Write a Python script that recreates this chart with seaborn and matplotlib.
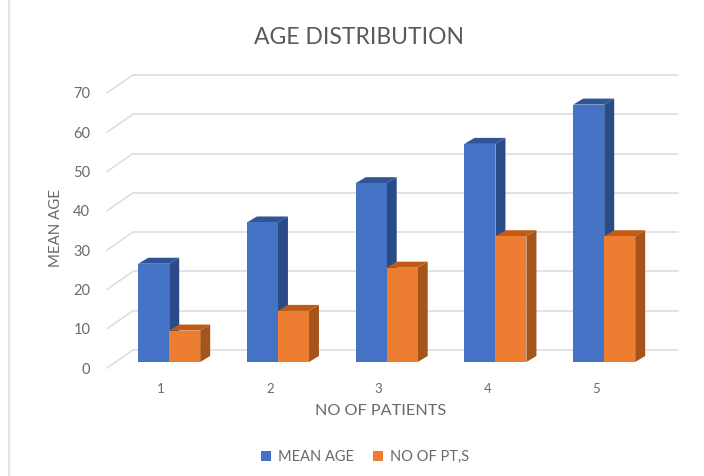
import numpy as np
import pandas as pd
import matplotlib
matplotlib.use('Agg')
import matplotlib.pyplot as plt
from matplotlib.lines import Line2D
from matplotlib.patches import Polygon
import seaborn as sns

groups = ['1', '2', '3', '4', '5']
mean_age = [25, 35.5, 45.5, 55.5, 65.5]
no_of_pts = [8, 13, 24, 32, 32]
y_ticks = [0, 10, 20, 30, 40, 50, 60, 70]

W, H = 704, 476
GREY = '#6a6a6a'

sns.set_theme(style='white')
plt.rcParams['font.family'] = ['Lato', 'DejaVu Sans']

df = pd.DataFrame({'group': groups, 'MEAN AGE': mean_age, 'NO OF PT,S': no_of_pts})
df = df.melt(id_vars='group', var_name='series', value_name='value')

fig = plt.figure(figsize=(W / 100, H / 100), dpi=100)
# axes box in pixels, picked so one category is 108.75 px and 10 units are 39.3 px
left, right, top, bottom = 100, 690, 60, 375
ax = fig.add_axes([left / W, 1 - bottom / H, (right - left) / W, (bottom - top) / H])

sns.barplot(data=df, x='group', y='value', hue='series', order=groups,
            palette=['#4472C4', '#ED7D31'], width=0.57, gap=0, saturation=1,
            linewidth=0, zorder=3, ax=ax)

px_x = 108.75   # px per category
px_y = 3.93     # px per value unit
x0_px, y0_px = 169.2, 362
ax.set_xlim((left - x0_px) / px_x, (right - x0_px) / px_x)
ax.set_ylim((y0_px - bottom) / px_y, (y0_px - top) / px_y)
sns.despine(ax=ax, left=True, bottom=True)

# depth of the fake 3d boxes, in data units
dx, dy = 10 / px_x, 6 / px_y
side_colors = ['#2A4B88', '#A5551C']
top_colors = ['#2F5597', '#C05A14']
for i, container in enumerate(ax.containers):
    for bar in container:
        x1 = bar.get_x()
        x2 = x1 + bar.get_width()
        h = bar.get_height()
        ax.add_patch(Polygon([(x2, 0), (x2 + dx, dy), (x2 + dx, h + dy), (x2, h)],
                             color=side_colors[i], lw=0, zorder=2 + i * 0.2))
        ax.add_patch(Polygon([(x1, h), (x1 + dx, h + dy), (x2 + dx, h + dy), (x2, h)],
                             color=top_colors[i], lw=0, zorder=2.1 + i * 0.2))

# floor sits 6 px in front of the bars and 12 px behind them
front = 6 / px_y
back = 12 / px_y
grid_x0 = (133 - x0_px) / px_x
grid_x1 = (678 - x0_px) / px_x
side_x0 = (107 - x0_px) / px_x
grid_color = '#dedede'
for t in y_ticks:
    ax.plot([grid_x0, grid_x1], [t + back, t + back], color=grid_color, lw=1.2, zorder=1)
    ax.plot([side_x0, grid_x0], [t - front, t + back], color=grid_color, lw=1.2, zorder=1)

ax.set_yticks(np.array(y_ticks) - front, labels=y_ticks)
ax.set_xticks(np.arange(len(groups)) - 8 / px_x, labels=groups)
ax.tick_params(axis='y', length=0, pad=7, labelsize=10.5, labelcolor=GREY)
ax.tick_params(axis='x', length=0, pad=6, labelsize=9.5, labelcolor=GREY)

ax.set_ylabel('MEAN AGE', fontsize=10.8, color=GREY)
ax.yaxis.set_label_coords((56 - left) / (right - left), (bottom - 228) / (bottom - top))
ax.set_xlabel('NO OF PATIENTS', fontsize=11.7, color=GREY)
ax.xaxis.set_label_coords((381 - left) / (right - left), (bottom - 411) / (bottom - top))
ax.xaxis.label.set_va('center')
ax.yaxis.label.set_va('center')

fig.text(359 / W, 1 - 37 / H, 'AGE DISTRIBUTION', ha='center', va='center',
         fontsize=16.5, color='#595959')

leg = ax.legend(loc='center', bbox_to_anchor=(365 / W, 1 - 457 / H), bbox_transform=fig.transFigure,
                ncol=2, frameon=False, fontsize=10.5, handlelength=0.7, handleheight=0.7,
                handletextpad=0.45, columnspacing=1.3, title=None)
for text in leg.get_texts():
    text.set_color(GREY)

# frame edge left over at the left of the picture
fig.add_artist(Line2D([9 / W, 9 / W], [0, 1], color='#e4e4e4', lw=1.5))

fig.savefig('out.png', dpi=100)
